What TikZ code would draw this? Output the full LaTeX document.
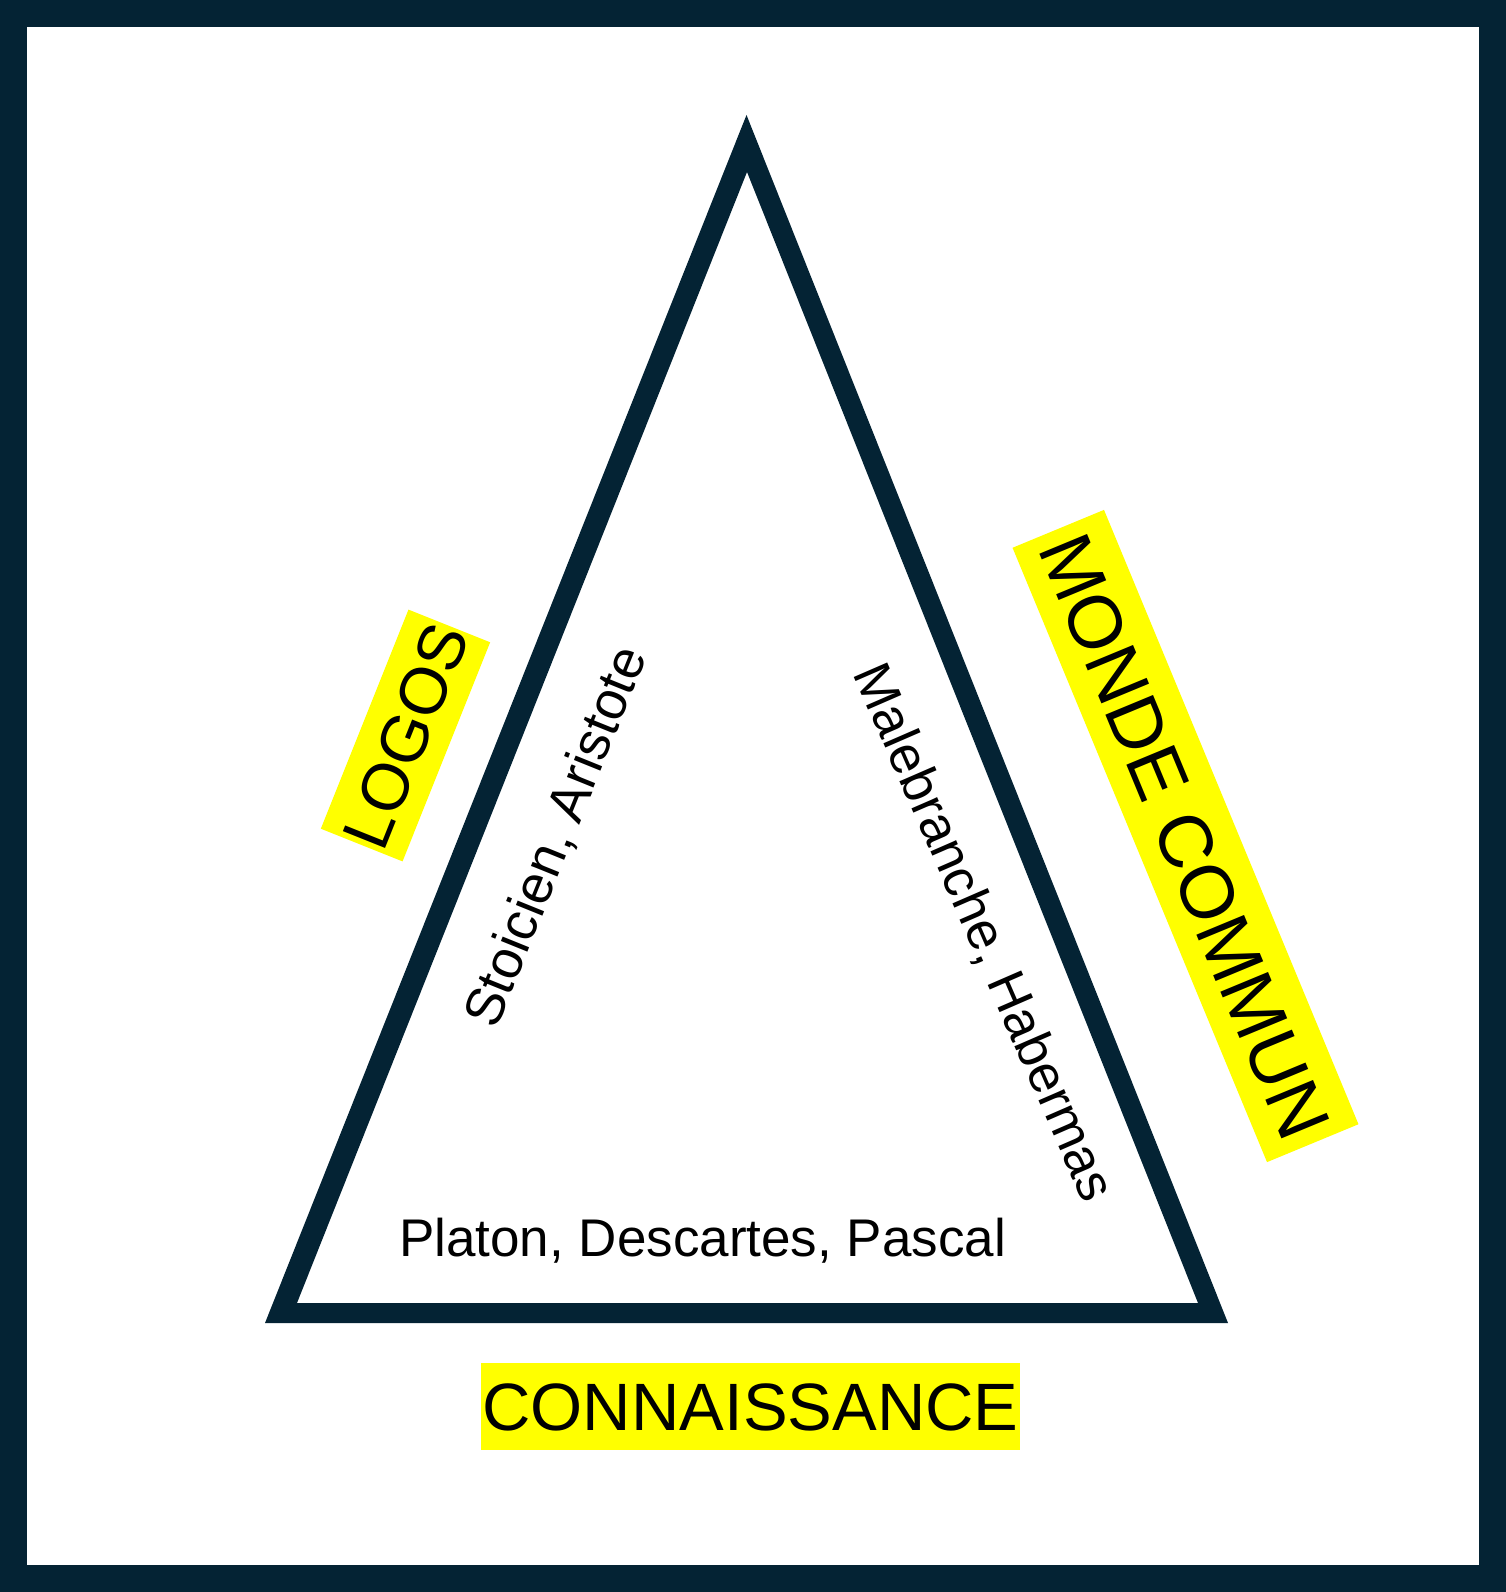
\documentclass[tikz,border=0pt]{standalone}
\usepackage{fontspec}
\setmainfont{Liberation Sans}
\definecolor{navy}{HTML}{042334}
\definecolor{hilite}{HTML}{FFFF00}
\begin{document}
\begin{tikzpicture}[x=1pt,y=-1pt,
  tag/.style={fill=hilite, text=black, inner sep=0pt, align=center,
    font=\fontsize{#1}{#1}\selectfont},
  philo/.style={text=black, inner sep=0pt, font=\fontsize{#1}{#1}\selectfont}]
  % page and dark frame
  \useasboundingbox (0,0) rectangle (1506,1592);
  \fill[navy] (0,0) rectangle (1506,1592);
  \fill[white] (27,27) rectangle (1479,1565);
  % triangle outline as a ring between two triangles
  \fill[navy, even odd rule]
    (746.5,115) -- (265,1323) -- (1228,1323) -- cycle
    (747,172) -- (297,1303) -- (1198,1303) -- cycle;
  % highlighted side labels
  \node[tag=67, minimum width=539pt, minimum height=87pt, text height=48pt, text depth=0pt]
    (conn) at (750.5,1406.5) {CONNAISSANCE};
  \node[tag=66, rotate=68.2, minimum width=236pt, minimum height=88pt, text height=47pt, text depth=0pt]
    (logos) at (405.5,735.5) {LOGOS};
  \node[tag=75, rotate=-67.5, minimum width=665pt, minimum height=99pt, text height=54pt, text depth=0pt]
    (monde) at (1185.5,836) {MONDE COMMUN};
  % philosophers along each side
  \node[philo=53, anchor=base west] (base) at (399,1256) {Platon, Descartes, Pascal};
  \node[philo=54, rotate=68] (left) at (557,837) {Stoicien, Aristote};
  \node[philo=53, rotate=-66.5] (right) at (983,933) {Malebranche, Habermas};
\end{tikzpicture}
\end{document}
